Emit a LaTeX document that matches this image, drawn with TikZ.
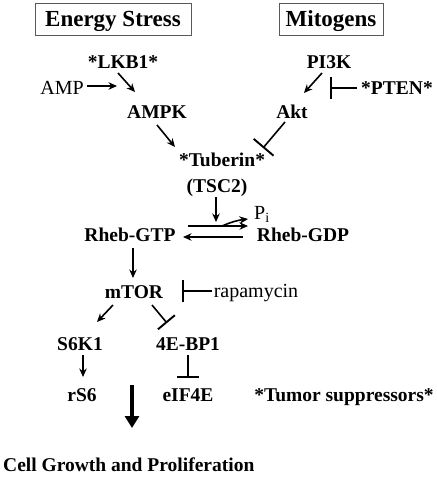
\documentclass[tikz,border=0pt]{standalone}
\usepackage{fontspec}
\setmainfont{Liberation Serif}
\usetikzlibrary{arrows.meta}
\begin{document}
\begin{tikzpicture}[x=1pt,y=-1pt,
  lab/.style={font=\fontsize{19.5}{22}\selectfont\bfseries,inner sep=0pt,text height=13.2pt,text depth=0pt},
  reg/.style={font=\fontsize{20}{22}\selectfont,inner sep=0pt,text height=13.2pt,text depth=0pt},
  hdr/.style={font=\fontsize{23}{26}\selectfont\bfseries,draw=black!65,line width=0.9pt,inner sep=0pt,text height=15.4pt,text depth=0pt},
  act/.style={line width=1.6pt,-{Stealth[length=8.5pt,width=7.5pt]}},
  inh/.style={line width=1.6pt,-{Bar[width=22pt,line width=1.9pt]}},
  big/.style={line width=4.5pt,-{Triangle[length=12pt,width=14pt]}}]
\useasboundingbox (0,0) rectangle (437,480);
% headers
\node[hdr,minimum width=156pt,minimum height=32pt] (es) at (113,19) {Energy Stress};
\node[hdr,minimum width=104pt,minimum height=32pt] (mit) at (331,19) {Mitogens};
% nodes
\node[lab] (lkb1) at (123,62) {*LKB1*};
\node[lab] (pi3k) at (329,62) {PI3K};
\node[reg] (amp) at (62,88) {AMP};
\node[lab] (pten) at (397,88) {*PTEN*};
\node[lab] (ampk) at (157,112) {AMPK};
\node[lab] (akt) at (292,112) {Akt};
\node[lab] (tub) at (222,160) {*Tuberin*};
\node[lab] (tsc2) at (217,186) {(TSC2)};
\node[reg] (pi) at (262,213) {P$_{\mathrm{i}}$};
\node[lab] (gtp) at (130,235) {Rheb-GTP};
\node[lab] (gdp) at (303,235) {Rheb-GDP};
\node[lab] (mtor) at (134,292) {mTOR};
\node[reg] (rapa) at (256,291) {rapamycin};
\node[lab] (s6k1) at (80,344) {S6K1};
\node[lab] (ebp) at (188,344) {4E-BP1};
\node[lab] (rs6) at (82,395) {rS6};
\node[lab] (eif) at (188,395) {eIF4E};
\node[lab] (tum) at (344,395) {*Tumor suppressors*};
\node[lab,anchor=west] (cell) at (3,465) {Cell Growth and Proliferation};
\coordinate (bigs) at (132,385);
\coordinate (bige) at (132,428);
% connectors
\draw[act] ([shift={(-5,11)}]lkb1.center) -- ([shift={(-22,-20)}]ampk.center);
\draw[act,line width=2.2pt] ([shift={(25,-2)}]amp.center) -- ([shift={(55,-2)}]amp.center);
\draw[act] ([shift={(-7,11)}]pi3k.center) -- ([shift={(12,-19)}]akt.center);
\draw[inh] ([shift={(-40,0)}]pten.center) -- ([shift={(-67,0)}]pten.center);
\draw[act] ([shift={(0,13)}]ampk.center) -- ([shift={(-47,-13)}]tub.center);
\draw[inh,-{Bar[width=26pt,line width=1.9pt]}] ([shift={(-7,10)}]akt.center) -- ([shift={(41,-12)}]tub.center);
\draw[act] ([shift={(-1,11)}]tsc2.center) -- ([shift={(-1,36)}]tsc2.center);
\draw[act] ([shift={(58,-9)}]gtp.center) -- ([shift={(-55,-9)}]gdp.center);
\draw[act] ([shift={(92,-9)}]gtp.center) to[bend left=8] ([shift={(-14,6)}]pi.center);
\draw[act] ([shift={(-60,2)}]gdp.center) -- ([shift={(53,2)}]gtp.center);
\draw[act] ([shift={(3,13)}]gtp.center) -- ([shift={(-1,-14)}]mtor.center);
\draw[inh] ([shift={(-44,0)}]rapa.center) -- ([shift={(-74,0)}]rapa.center);
\draw[act] ([shift={(-21,13)}]mtor.center) -- ([shift={(17,-22)}]s6k1.center);
\draw[inh] ([shift={(18,13)}]mtor.center) -- ([shift={(-21,-21)}]ebp.center);
\draw[act] ([shift={(3,11)}]s6k1.center) -- ([shift={(1,-18)}]rs6.center);
\draw[inh] ([shift={(0,11)}]ebp.center) -- ([shift={(0,-17)}]eif.center);
\draw[big] (bigs) -- (bige);
\end{tikzpicture}
\end{document}
